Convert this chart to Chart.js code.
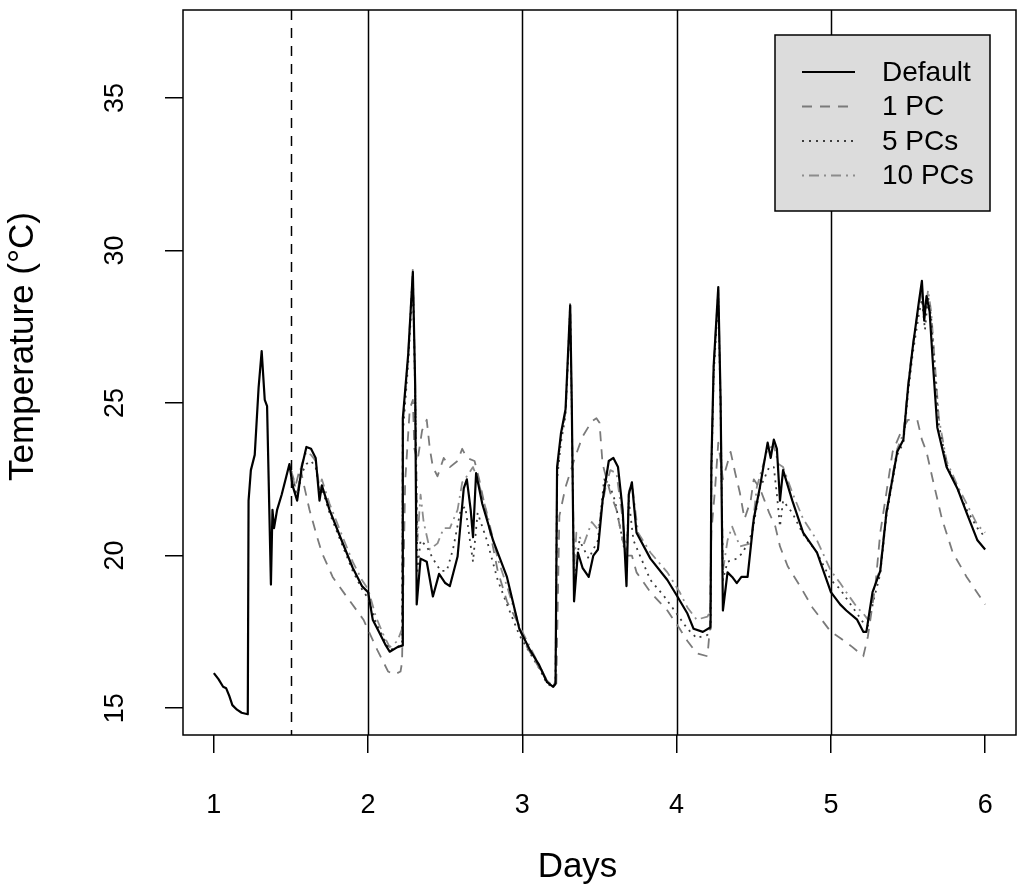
<!DOCTYPE html>
<html>
<head>
<meta charset="utf-8">
<title>Temperature by day</title>
<script src="https://cdn.jsdelivr.net/npm/chart.js@4.4.1/dist/chart.umd.min.js"></script>
<style>
  html, body { margin: 0; padding: 0; background: #fff; }
  canvas { display: block; }
</style>
</head>
<body>
<canvas id="tempChart" width="1024" height="893"></canvas>
<script>
// values
const seriesNames = ['Default', '1 PC', '5 PCs', '10 PCs'];
const dayTicks = [1, 2, 3, 4, 5, 6];
const tempTicks = [15, 20, 25, 30, 35];
const splitLines = [1.5, 2, 3, 4, 5];

const defaultDays = [1.00, 1.03, 1.06, 1.08, 1.10, 1.12, 1.15, 1.18, 1.22, 1.225, 1.24, 1.265, 1.29, 1.31, 1.33, 1.345, 1.37, 1.38, 1.39, 1.41, 1.44, 1.47, 1.49, 1.51, 1.54, 1.57, 1.60, 1.63, 1.66, 1.685, 1.70, 1.75, 1.82, 1.90, 1.96, 2.00, 2.03, 2.07, 2.11, 2.14, 2.19, 2.22, 2.225, 2.26, 2.29, 2.305, 2.315, 2.34, 2.38, 2.42, 2.46, 2.50, 2.53, 2.58, 2.62, 2.64, 2.665, 2.68, 2.70, 2.74, 2.81, 2.90, 2.98, 3.05, 3.11, 3.16, 3.20, 3.215, 3.225, 3.25, 3.28, 3.31, 3.32, 3.335, 3.36, 3.39, 3.43, 3.46, 3.49, 3.52, 3.56, 3.59, 3.62, 3.65, 3.675, 3.69, 3.71, 3.74, 3.83, 3.94, 4.00, 4.07, 4.11, 4.17, 4.22, 4.225, 4.24, 4.27, 4.285, 4.30, 4.33, 4.36, 4.39, 4.42, 4.46, 4.50, 4.54, 4.59, 4.61, 4.63, 4.65, 4.67, 4.69, 4.75, 4.82, 4.91, 5.00, 5.06, 5.10, 5.17, 5.21, 5.23, 5.27, 5.32, 5.36, 5.43, 5.47, 5.50, 5.53, 5.57, 5.59, 5.605, 5.62, 5.64, 5.66, 5.69, 5.75, 5.82, 5.88, 5.95, 6.00];
const defaultTemp = [16.15, 15.95, 15.7, 15.65, 15.4, 15.1, 14.95, 14.85, 14.8, 21.8, 22.8, 23.3, 25.5, 26.7, 25.1, 24.9, 19.05, 21.5, 20.9, 21.5, 22.0, 22.6, 23.0, 22.3, 21.8, 22.9, 23.56, 23.5, 23.2, 21.8, 22.3, 21.5, 20.6, 19.6, 19.0, 18.8, 17.9, 17.5, 17.1, 16.85, 17.0, 17.05, 24.5, 26.6, 29.3, 25.6, 18.4, 19.9, 19.8, 18.66, 19.4, 19.1, 19.0, 19.97, 22.2, 22.5, 21.5, 20.6, 22.7, 21.7, 20.5, 19.3, 17.6, 16.9, 16.4, 15.85, 15.7, 15.8, 22.9, 24.0, 24.8, 28.2, 25.1, 18.5, 20.1, 19.6, 19.3, 20.0, 20.2, 21.8, 23.1, 23.2, 22.9, 21.5, 19.0, 22.0, 22.4, 20.75, 19.9, 19.2, 18.7, 18.1, 17.6, 17.5, 17.65, 22.9, 26.2, 28.8, 25.1, 18.2, 19.45, 19.3, 19.1, 19.3, 19.3, 21.2, 22.25, 23.7, 23.2, 23.8, 23.5, 21.8, 22.8, 21.8, 20.75, 20.1, 18.8, 18.4, 18.2, 17.9, 17.5, 17.5, 18.8, 19.5, 21.4, 23.4, 23.8, 25.5, 26.8, 28.3, 29.0, 27.7, 28.5, 28.0, 26.4, 24.2, 22.9, 22.2, 21.4, 20.5, 20.2];

const pc1Days = [1.50, 1.53, 1.56, 1.58, 1.62, 1.67, 1.70, 1.77, 1.86, 1.97, 2.06, 2.13, 2.17, 2.21, 2.22, 2.24, 2.27, 2.29, 2.30, 2.32, 2.35, 2.38, 2.40, 2.42, 2.45, 2.49, 2.53, 2.58, 2.61, 2.64, 2.69, 2.72, 2.77, 2.84, 2.90, 2.96, 3.03, 3.10, 3.16, 3.20, 3.22, 3.24, 3.28, 3.34, 3.39, 3.45, 3.48, 3.50, 3.52, 3.57, 3.61, 3.65, 3.68, 3.71, 3.74, 3.83, 3.94, 4.02, 4.07, 4.13, 4.20, 4.215, 4.225, 4.25, 4.27, 4.30, 4.35, 4.38, 4.41, 4.44, 4.48, 4.50, 4.54, 4.57, 4.60, 4.64, 4.67, 4.72, 4.80, 4.88, 5.00, 5.06, 5.14, 5.21, 5.24, 5.29, 5.32, 5.36, 5.40, 5.45, 5.50, 5.56, 5.59, 5.62, 5.66, 5.72, 5.79, 5.88, 6.00];
const pc1Temp = [22.8, 22.3, 22.9, 22.4, 21.5, 20.6, 20.1, 19.3, 18.66, 17.9, 16.9, 16.2, 16.1, 16.2, 16.5, 22.4, 24.8, 25.1, 23.5, 23.1, 24.1, 24.45, 23.5, 22.9, 22.6, 23.2, 22.9, 23.1, 23.5, 23.2, 23.1, 22.5, 21.3, 19.5, 18.5, 17.9, 17.0, 16.4, 15.9, 15.7, 15.8, 21.3, 22.25, 23.2, 23.9, 24.4, 24.5, 24.35, 23.0, 22.06, 21.5, 20.5, 20.0, 20.0, 19.45, 18.8, 18.2, 17.6, 17.2, 16.8, 16.7, 17.6, 20.75, 22.25, 23.7, 22.5, 23.4, 22.7, 22.06, 21.2, 21.8, 22.5, 22.2, 21.8, 21.4, 20.95, 20.3, 19.65, 19.0, 18.3, 17.5, 17.3, 17.0, 16.7, 17.35, 19.1, 20.75, 22.06, 23.4, 24.0, 24.45, 24.45, 23.8, 23.4, 22.5, 21.2, 20.1, 19.3, 18.4];

const pc5Days = [1.50, 1.54, 1.57, 1.60, 1.63, 1.66, 1.69, 1.70, 1.75, 1.82, 1.90, 1.96, 2.00, 2.05, 2.10, 2.14, 2.19, 2.22, 2.225, 2.26, 2.29, 2.305, 2.32, 2.34, 2.38, 2.42, 2.47, 2.51, 2.55, 2.60, 2.63, 2.66, 2.68, 2.71, 2.77, 2.84, 2.90, 2.98, 3.05, 3.11, 3.16, 3.20, 3.215, 3.225, 3.25, 3.28, 3.31, 3.32, 3.335, 3.37, 3.43, 3.49, 3.53, 3.57, 3.60, 3.65, 3.675, 3.69, 3.72, 3.83, 3.92, 4.00, 4.07, 4.13, 4.20, 4.22, 4.225, 4.24, 4.27, 4.285, 4.30, 4.33, 4.39, 4.43, 4.49, 4.54, 4.60, 4.63, 4.65, 4.67, 4.69, 4.75, 4.82, 4.91, 5.00, 5.06, 5.10, 5.17, 5.21, 5.24, 5.28, 5.32, 5.36, 5.43, 5.47, 5.50, 5.53, 5.57, 5.59, 5.61, 5.63, 5.65, 5.67, 5.70, 5.75, 5.82, 5.88, 5.95, 6.00];
const pc5Temp = [22.8, 21.9, 22.7, 23.0, 23.1, 22.9, 21.9, 22.2, 21.4, 20.5, 19.5, 18.9, 18.6, 17.8, 17.3, 16.9, 17.0, 17.1, 24.0, 26.3, 29.0, 25.4, 19.5, 20.5, 20.3, 19.9, 19.5, 19.5, 20.2, 21.5, 21.6, 20.5, 19.8, 21.4, 20.5, 19.2, 18.4, 17.4, 16.8, 16.3, 15.8, 15.7, 15.8, 22.5, 23.7, 24.6, 28.0, 24.8, 19.0, 20.5, 19.9, 20.5, 22.5, 22.25, 21.8, 20.5, 19.8, 21.8, 20.5, 19.2, 18.66, 18.1, 17.6, 17.3, 17.4, 17.6, 22.6, 25.9, 28.5, 24.8, 19.2, 19.8, 19.9, 20.1, 20.75, 22.2, 22.9, 22.9, 22.0, 20.95, 21.8, 21.4, 20.7, 20.1, 19.2, 18.9, 18.6, 18.1, 17.8, 17.7, 18.6, 19.4, 21.3, 23.3, 23.7, 25.3, 26.6, 27.9, 28.4, 27.4, 28.5, 27.8, 26.4, 24.3, 23.0, 22.2, 21.5, 20.9, 20.6];

const pc10Days = [1.50, 1.54, 1.57, 1.60, 1.63, 1.66, 1.685, 1.70, 1.75, 1.82, 1.90, 1.96, 2.00, 2.05, 2.10, 2.14, 2.19, 2.22, 2.225, 2.26, 2.29, 2.305, 2.32, 2.34, 2.36, 2.40, 2.45, 2.49, 2.53, 2.58, 2.61, 2.64, 2.68, 2.71, 2.77, 2.84, 2.90, 2.98, 3.05, 3.11, 3.16, 3.20, 3.215, 3.225, 3.25, 3.28, 3.31, 3.32, 3.335, 3.35, 3.40, 3.45, 3.49, 3.54, 3.57, 3.61, 3.65, 3.675, 3.69, 3.71, 3.75, 3.83, 3.94, 4.02, 4.07, 4.13, 4.20, 4.22, 4.225, 4.24, 4.27, 4.285, 4.30, 4.33, 4.36, 4.41, 4.48, 4.52, 4.59, 4.63, 4.66, 4.69, 4.75, 4.82, 4.91, 5.00, 5.06, 5.10, 5.17, 5.21, 5.24, 5.28, 5.32, 5.36, 5.43, 5.47, 5.50, 5.53, 5.57, 5.59, 5.61, 5.63, 5.65, 5.67, 5.70, 5.75, 5.82, 5.88, 5.95, 6.00];
const pc10Temp = [22.8, 22.0, 23.0, 23.4, 23.3, 23.1, 22.2, 22.5, 21.7, 20.8, 19.8, 19.2, 18.9, 18.0, 17.4, 17.0, 17.2, 17.6, 24.3, 26.6, 29.4, 25.6, 20.5, 22.0, 21.1, 20.2, 20.4, 20.9, 20.9, 21.5, 22.4, 22.6, 22.9, 22.5, 21.4, 19.9, 19.0, 17.7, 17.0, 16.4, 15.9, 15.7, 15.9, 22.7, 23.9, 24.7, 28.3, 25.0, 19.5, 20.75, 20.4, 21.1, 20.85, 22.25, 22.8, 22.7, 21.2, 20.0, 22.1, 22.4, 20.75, 20.1, 19.45, 18.8, 18.3, 17.9, 18.0, 18.2, 22.9, 26.2, 28.7, 25.1, 19.5, 20.5, 20.95, 20.3, 20.4, 22.25, 23.5, 23.6, 23.0, 22.9, 22.06, 21.2, 20.5, 19.5, 19.1, 18.8, 18.3, 18.1, 17.9, 18.9, 19.6, 21.5, 23.5, 24.0, 25.6, 26.9, 28.2, 28.6, 27.9, 28.7, 28.0, 26.6, 24.5, 23.1, 22.3, 21.7, 21.0, 20.75];

const seriesColors = ['#000000', '#7a7a7a', '#3c3c3c', '#8c8c8c'];
const seriesDashes = [[], [10, 8], [2, 5], [2, 5, 10, 5]];
const seriesWidths = [2.2, 1.8, 1.8, 1.8];

function toPoints(days, temps) {
  return days.map((d, i) => ({ x: d, y: temps[i] }));
}

const fontFamily = '"Liberation Sans", Arial, Helvetica, sans-serif';
Chart.defaults.font.family = fontFamily;
Chart.defaults.color = '#000';

// box, split lines, axis titles and legend drawn like R's base graphics
const frame = {
  id: 'frame',
  beforeDatasetsDraw(chart) {
    const { ctx, chartArea: a, scales: { x } } = chart;
    ctx.save();
    ctx.strokeStyle = '#000';
    ctx.lineWidth = 1.5;
    splitLines.forEach(d => {
      const px = Math.round(x.getPixelForValue(d)) + 0.5;
      ctx.setLineDash(d === 1.5 ? [10, 8] : []);
      ctx.beginPath();
      ctx.moveTo(px, a.top);
      ctx.lineTo(px, a.bottom);
      ctx.stroke();
    });
    ctx.restore();
  },
  afterDraw(chart) {
    const { ctx, chartArea: a } = chart;
    ctx.save();
    ctx.strokeStyle = '#000';
    ctx.lineWidth = 1.5;
    ctx.strokeRect(a.left, a.top, a.right - a.left, a.bottom - a.top);

    ctx.fillStyle = '#000';
    ctx.font = '35px ' + fontFamily;
    ctx.textAlign = 'center';
    ctx.textBaseline = 'alphabetic';
    ctx.fillText('Days', (a.left + a.right) / 2 - 22, 877);
    ctx.save();
    ctx.translate(a.left - 150, (a.top + a.bottom) / 2 - 26);
    ctx.rotate(-Math.PI / 2);
    ctx.fillText('Temperature (°C)', 0, 0);
    ctx.restore();

    // legend
    const lx = a.right - 241, ly = a.top + 25, lw = 215, lh = 176;
    ctx.fillStyle = '#dcdcdc';
    ctx.fillRect(lx, ly, lw, lh);
    ctx.strokeRect(lx, ly, lw, lh);
    ctx.font = '28px ' + fontFamily;
    ctx.textAlign = 'left';
    ctx.textBaseline = 'middle';
    seriesNames.forEach((name, i) => {
      const ry = ly + 37 + i * 34.5;
      ctx.strokeStyle = seriesColors[i];
      ctx.lineWidth = seriesWidths[i];
      ctx.setLineDash(seriesDashes[i]);
      ctx.beginPath();
      ctx.moveTo(lx + 27, ry);
      ctx.lineTo(lx + 80, ry);
      ctx.stroke();
      ctx.fillStyle = '#000';
      ctx.fillText(name, lx + 107, ry + 1);
    });
    ctx.restore();
  }
};

const series = [
  toPoints(defaultDays, defaultTemp),
  toPoints(pc1Days, pc1Temp),
  toPoints(pc5Days, pc5Temp),
  toPoints(pc10Days, pc10Temp)
];

new Chart(document.getElementById('tempChart'), {
  type: 'line',
  data: {
    datasets: series.map((pts, i) => ({
      label: seriesNames[i],
      data: pts,
      borderColor: seriesColors[i],
      borderWidth: seriesWidths[i],
      borderDash: seriesDashes[i],
      borderJoinStyle: 'round',
      pointRadius: 0,
      tension: 0,
      fill: false
    }))
  },
  options: {
    responsive: false,
    animation: false,
    devicePixelRatio: 1,
    layout: { padding: { top: 10, right: 8, left: 0, bottom: 0 } },
    plugins: { legend: { display: false }, tooltip: { enabled: false } },
    scales: {
      x: {
        type: 'linear',
        min: 0.8,
        max: 6.2,
        afterBuildTicks: s => { s.ticks = dayTicks.map(v => ({ value: v })); },
        afterFit: s => { s.height = 158; s.paddingLeft = 0; s.paddingRight = 0; },
        border: { display: false },
        grid: { drawOnChartArea: false, drawTicks: true, tickLength: 18, color: '#000', lineWidth: 1.5 },
        ticks: { font: { size: 27 }, padding: 36, maxRotation: 0, minRotation: 0 }
      },
      y: {
        type: 'linear',
        min: 14.12,
        max: 37.88,
        afterBuildTicks: s => { s.ticks = tempTicks.map(v => ({ value: v })); },
        afterFit: s => { s.width = 183; s.paddingTop = 0; s.paddingBottom = 0; },
        border: { display: false },
        grid: { drawOnChartArea: false, drawTicks: true, tickLength: 18, color: '#000', lineWidth: 1.5 },
        ticks: { font: { size: 27 }, padding: 34, minRotation: 90, maxRotation: 90, crossAlign: 'center' }
      }
    }
  },
  plugins: [frame]
});
</script>
</body>
</html>
